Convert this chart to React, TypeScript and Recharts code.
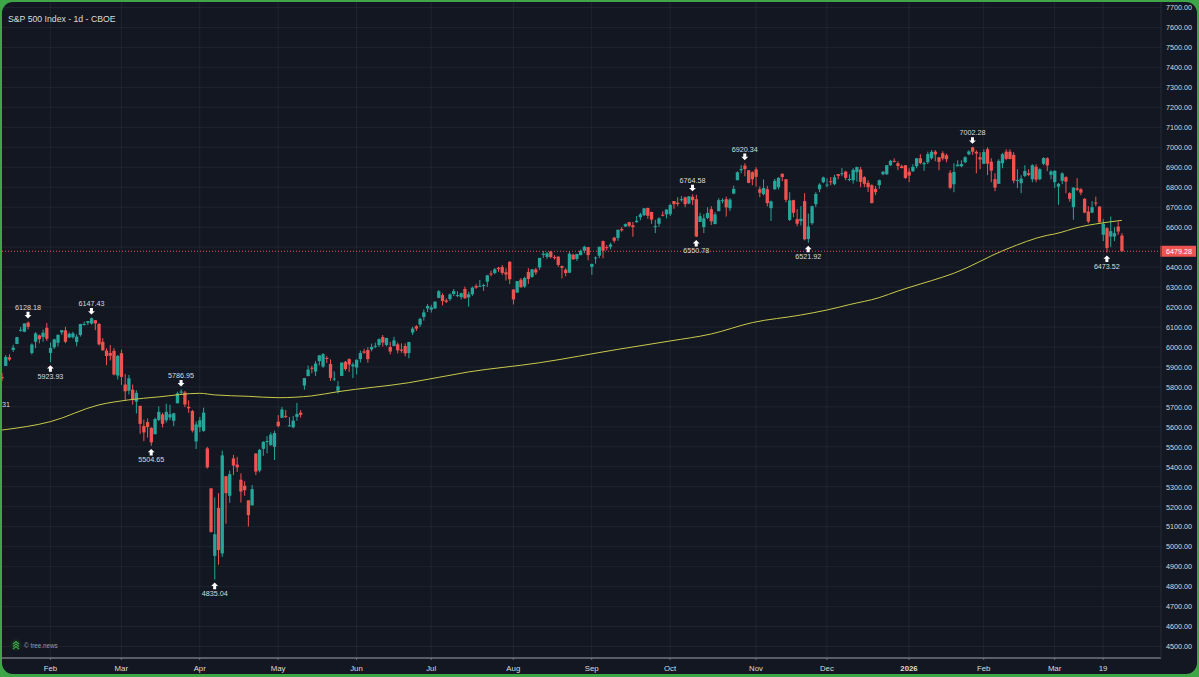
import React from "react";
import {
  Bar,
  CartesianGrid,
  ComposedChart,
  Line,
  ReferenceDot,
  ReferenceLine,
  XAxis,
  YAxis,
} from "recharts";

const FONT = '"Liberation Sans", Arial, sans-serif';
const UP = "#26a69a";
const DOWN = "#ef5350";
const BG = "#131722";
const TEXT = "#dcdcdc";

// trading days per month, one candle each
const tradingDays: [string, number[]][] = [
  ["2025-01", [14, 15, 16, 17, 21, 22, 23, 24, 27, 28, 29, 30, 31]],
  ["2025-02", [3, 4, 5, 6, 7, 10, 11, 12, 13, 14, 18, 19, 20, 21, 24, 25, 26, 27, 28]],
  ["2025-03", [3, 4, 5, 6, 7, 10, 11, 12, 13, 14, 17, 18, 19, 20, 21, 24, 25, 26, 27, 28, 31]],
  ["2025-04", [1, 2, 3, 4, 7, 8, 9, 10, 11, 14, 15, 16, 17, 21, 22, 23, 24, 25, 28, 29, 30]],
  ["2025-05", [1, 2, 5, 6, 7, 8, 9, 12, 13, 14, 15, 16, 19, 20, 21, 22, 23, 27, 28, 29, 30]],
  ["2025-06", [2, 3, 4, 5, 6, 9, 10, 11, 12, 13, 16, 17, 18, 20, 23, 24, 25, 26, 27, 30]],
  ["2025-07", [1, 2, 3, 7, 8, 9, 10, 11, 14, 15, 16, 17, 18, 21, 22, 23, 24, 25, 28, 29, 30, 31]],
  ["2025-08", [1, 4, 5, 6, 7, 8, 11, 12, 13, 14, 15, 18, 19, 20, 21, 22, 25, 26, 27, 28, 29]],
  ["2025-09", [2, 3, 4, 5, 8, 9, 10, 11, 12, 15, 16, 17, 18, 19, 22, 23, 24, 25, 26, 29, 30]],
  ["2025-10", [1, 2, 3, 6, 7, 8, 9, 10, 13, 14, 15, 16, 17, 20, 21, 22, 23, 24, 27, 28, 29, 30, 31]],
  ["2025-11", [3, 4, 5, 6, 7, 10, 11, 12, 13, 14, 17, 18, 19, 20, 21, 24, 25, 26, 28]],
  ["2025-12", [1, 2, 3, 4, 5, 8, 9, 10, 11, 12, 15, 16, 17, 18, 19, 22, 23, 24, 26, 29, 30, 31]],
  ["2026-01", [2, 5, 6, 7, 8, 9, 12, 13, 14, 15, 16, 20, 21, 22, 23, 26, 27, 28, 29, 30]],
  ["2026-02", [2, 3, 4, 5, 6, 9, 10, 11, 12, 13, 17, 18, 19, 20, 23, 24, 25, 26, 27]],
  ["2026-03", [2, 3, 4, 5, 6, 9, 10, 11, 12, 13, 16, 17, 18, 19, 20, 23, 24, 25, 26]],
];

// empty slots to the right of the last candle
const futureSlots = ["f1", "f2", "f3", "f4", "f5", "f6", "f7", "f8", "f9", "f10"];

const opens = [
  5850, 5905, 5948, 5985, 6015, 6081, 6076, 6122, 5970, 6026, 6058, 6050, 6096,
  5970, 5998, 6021, 6073, 6083, 6047, 6049, 6025, 6060, 6115, 6121, 6117, 6134, 6115, 6026, 5982, 5970, 5981, 5857,
  5969, 5812, 5781, 5786, 5726, 5705, 5604, 5624, 5595, 5563, 5635, 5662, 5633, 5647, 5630, 5718, 5771, 5772, 5700, 5679, 5527,
  5598, 5580, 5492, 5292, 4954, 5194, 4966, 5353, 5255, 5442, 5411, 5335, 5305, 5232, 5207, 5466, 5381, 5490, 5529, 5508, 5500,
  5626, 5645, 5655, 5606, 5598, 5650, 5671, 5807, 5854, 5896, 5877, 5929, 5902, 5945, 5915, 5841, 5781, 5855, 5926, 5939, 5903,
  5897, 5939, 5978, 5985, 5988, 6005, 6010, 6050, 6010, 6000, 6005, 6013, 5987, 6005, 5970, 6072, 6104, 6112, 6150, 6193,
  6187, 6193, 6246, 6260, 6233, 6240, 6265, 6255, 6250, 6290, 6248, 6264, 6305, 6304, 6306, 6327, 6368, 6370, 6397, 6400, 6374, 6427,
  6288, 6272, 6337, 6303, 6376, 6351, 6388, 6398, 6461, 6451, 6478, 6450, 6452, 6405, 6387, 6372, 6462, 6441, 6460, 6482, 6500,
  6401, 6445, 6457, 6530, 6500, 6502, 6547, 6546, 6590, 6603, 6625, 6609, 6625, 6650, 6660, 6696, 6676, 6605, 6617, 6662, 6664,
  6665, 6731, 6722, 6735, 6749, 6718, 6752, 6740, 6626, 6600, 6646, 6690, 6615, 6680, 6735, 6740, 6695, 6768, 6835, 6885, 6908, 6885, 6875,
  6889, 6790, 6765, 6790, 6695, 6790, 6800, 6867, 6840, 6636, 6735, 6640, 6630, 6730, 6541, 6620, 6715, 6790, 6825,
  6812, 6830, 6815, 6866, 6866, 6878, 6840, 6835, 6875, 6889, 6850, 6822, 6810, 6792, 6810, 6865, 6865, 6910, 6932, 6920, 6905, 6910,
  6878, 6880, 6905, 6945, 6915, 6925, 6945, 6978, 6950, 6970, 6960, 6872, 6815, 6905, 6905, 6925, 6965, 7000, 6977, 6950,
  6917, 6990, 6928, 6840, 6817, 6920, 6978, 6978, 6962, 6835, 6820, 6857, 6870, 6840, 6903, 6840, 6917, 6945, 6862,
  6825, 6803, 6832, 6850, 6770, 6700, 6795, 6790, 6742, 6678, 6673, 6723, 6703, 6562, 6595, 6553, 6553, 6603, 6558,
];

const highs = [
  5870, 5960, 5964, 6011, 6051, 6100, 6118, 6128, 6018, 6074, 6062, 6087, 6120,
  6022, 6042, 6062, 6084, 6101, 6073, 6076, 6063, 6116, 6127, 6130, 6147, 6134, 6120, 6044, 5993, 6010, 5994, 5960,
  5987, 5865, 5860, 5812, 5783, 5706, 5636, 5642, 5598, 5646, 5703, 5670, 5716, 5711, 5670, 5776, 5787, 5780, 5733, 5685, 5627,
  5650, 5696, 5500, 5293, 5247, 5268, 5481, 5353, 5381, 5460, 5450, 5367, 5328, 5232, 5309, 5469, 5489, 5528, 5554, 5572, 5581,
  5659, 5700, 5684, 5649, 5654, 5720, 5684, 5845, 5907, 5906, 5929, 5959, 5969, 5954, 5938, 5878, 5829, 5922, 5930, 5943, 5922,
  5938, 5982, 5991, 5999, 6017, 6022, 6043, 6060, 6046, 6026, 6051, 6023, 6018, 6018, 6026, 6101, 6109, 6146, 6188, 6215,
  6211, 6228, 6285, 6269, 6243, 6269, 6290, 6279, 6272, 6302, 6277, 6303, 6316, 6336, 6316, 6361, 6382, 6395, 6401, 6410, 6394, 6428,
  6288, 6330, 6345, 6352, 6395, 6390, 6396, 6446, 6481, 6477, 6481, 6460, 6456, 6408, 6394, 6479, 6467, 6466, 6488, 6507, 6501,
  6417, 6453, 6502, 6533, 6510, 6522, 6552, 6587, 6601, 6619, 6627, 6626, 6656, 6672, 6696, 6698, 6677, 6637, 6650, 6679, 6689,
  6718, 6731, 6750, 6756, 6753, 6756, 6765, 6762, 6672, 6665, 6700, 6705, 6675, 6745, 6745, 6753, 6745, 6808, 6879, 6911, 6920, 6886, 6880,
  6900, 6804, 6839, 6807, 6733, 6842, 6850, 6870, 6840, 6775, 6737, 6690, 6705, 6770, 6668, 6707, 6775, 6820, 6853,
  6844, 6851, 6862, 6866, 6896, 6882, 6865, 6895, 6903, 6902, 6855, 6835, 6815, 6806, 6838, 6880, 6911, 6937, 6945, 6930, 6913, 6911,
  6895, 6915, 6945, 6965, 6928, 6978, 6986, 6986, 6950, 6980, 6968, 6885, 6920, 6935, 6935, 6955, 6985, 7002, 6985, 6975,
  6990, 7000, 6945, 6870, 6940, 6972, 6990, 6990, 6975, 6890, 6860, 6910, 6890, 6915, 6915, 6895, 6950, 6950, 6885,
  6885, 6822, 6875, 6855, 6775, 6800, 6845, 6795, 6745, 6705, 6730, 6753, 6705, 6640, 6600, 6653, 6600, 6628, 6570,
];

const lows = [
  5830, 5905, 5930, 5975, 6014, 6077, 6074, 6088, 5962, 5994, 6018, 6026, 6030,
  5924, 5990, 6003, 6061, 6019, 6047, 6042, 6004, 6052, 6107, 6110, 6112, 6084, 6008, 5982, 5909, 5933, 5858, 5837,
  5810, 5733, 5762, 5711, 5667, 5565, 5528, 5546, 5505, 5563, 5629, 5597, 5622, 5633, 5604, 5718, 5763, 5699, 5670, 5572, 5489,
  5573, 5575, 5391, 5070, 4835, 4910, 4949, 5115, 5220, 5358, 5374, 5221, 5255, 5101, 5207, 5358, 5372, 5455, 5468, 5506, 5434,
  5597, 5645, 5644, 5603, 5593, 5630, 5646, 5786, 5854, 5868, 5855, 5908, 5895, 5920, 5830, 5829, 5767, 5855, 5881, 5875, 5844,
  5862, 5922, 5966, 5921, 5978, 5994, 6000, 6002, 6004, 5963, 6005, 5968, 5971, 5953, 5943, 6060, 6080, 6100, 6132, 6175,
  6172, 6190, 6244, 6208, 6220, 6230, 6255, 6249, 6238, 6241, 6202, 6256, 6291, 6303, 6281, 6301, 6354, 6364, 6376, 6361, 6333, 6315,
  6213, 6272, 6297, 6296, 6316, 6346, 6361, 6386, 6445, 6441, 6444, 6438, 6401, 6343, 6354, 6370, 6437, 6431, 6459, 6469, 6434,
  6361, 6417, 6445, 6444, 6484, 6489, 6522, 6532, 6577, 6601, 6600, 6552, 6622, 6635, 6656, 6642, 6617, 6570, 6602, 6654, 6644,
  6656, 6692, 6705, 6727, 6700, 6715, 6711, 6551, 6626, 6570, 6640, 6611, 6616, 6680, 6719, 6653, 6680, 6765, 6835, 6870, 6855, 6820, 6810,
  6803, 6750, 6759, 6704, 6631, 6786, 6789, 6830, 6725, 6631, 6650, 6605, 6608, 6534, 6522, 6612, 6700, 6775, 6820,
  6800, 6810, 6810, 6840, 6855, 6835, 6830, 6818, 6828, 6800, 6801, 6776, 6718, 6760, 6792, 6860, 6862, 6907, 6924, 6885, 6894, 6842,
  6825, 6876, 6895, 6915, 6882, 6916, 6938, 6930, 6885, 6934, 6925, 6790, 6775, 6905, 6900, 6920, 6960, 6962, 6870, 6890,
  6917, 6860, 6825, 6780, 6817, 6895, 6935, 6940, 6820, 6795, 6770, 6850, 6855, 6825, 6825, 6835, 6910, 6880, 6840,
  6795, 6712, 6815, 6770, 6728, 6637, 6780, 6760, 6670, 6620, 6670, 6705, 6622, 6530, 6473, 6500, 6530, 6562, 6479,
];

const closes = [
  5843, 5950, 5937, 5997, 6049, 6086, 6118, 6101, 6012, 6068, 6039, 6071, 6041,
  5995, 6038, 6061, 6084, 6026, 6066, 6068, 6052, 6115, 6115, 6130, 6144, 6118, 6013, 5983, 5955, 5956, 5862, 5955,
  5850, 5778, 5843, 5739, 5770, 5615, 5572, 5599, 5522, 5639, 5675, 5615, 5675, 5663, 5668, 5768, 5777, 5712, 5693, 5581, 5612,
  5633, 5671, 5397, 5074, 5062, 4983, 5457, 5268, 5363, 5406, 5397, 5276, 5283, 5158, 5288, 5376, 5485, 5525, 5529, 5561, 5569,
  5604, 5687, 5650, 5607, 5631, 5664, 5660, 5844, 5887, 5893, 5917, 5958, 5964, 5940, 5845, 5842, 5803, 5922, 5889, 5912, 5912,
  5936, 5970, 5971, 5939, 6000, 6006, 6039, 6022, 6045, 5977, 6033, 5983, 5981, 5968, 6025, 6092, 6092, 6141, 6173, 6205,
  6198, 6227, 6279, 6230, 6226, 6263, 6280, 6260, 6269, 6244, 6264, 6297, 6297, 6306, 6310, 6359, 6363, 6389, 6390, 6371, 6363, 6339,
  6238, 6330, 6299, 6345, 6340, 6389, 6373, 6446, 6467, 6469, 6450, 6449, 6411, 6396, 6370, 6467, 6439, 6466, 6481, 6502, 6460,
  6416, 6448, 6502, 6482, 6495, 6513, 6532, 6587, 6584, 6615, 6607, 6600, 6632, 6664, 6694, 6657, 6638, 6605, 6644, 6661, 6688,
  6711, 6715, 6716, 6740, 6715, 6754, 6735, 6553, 6655, 6644, 6671, 6629, 6664, 6735, 6735, 6699, 6738, 6792, 6875, 6891, 6891, 6822, 6840,
  6852, 6772, 6796, 6720, 6729, 6832, 6847, 6851, 6737, 6734, 6672, 6617, 6642, 6539, 6603, 6705, 6766, 6813, 6849,
  6813, 6829, 6850, 6857, 6870, 6847, 6841, 6887, 6901, 6827, 6817, 6800, 6721, 6775, 6835, 6878, 6910, 6932, 6930, 6906, 6896, 6846,
  6858, 6902, 6945, 6921, 6921, 6966, 6977, 6964, 6927, 6944, 6940, 6797, 6876, 6913, 6916, 6950, 6979, 6978, 6969, 6939,
  6976, 6918, 6883, 6798, 6932, 6965, 6942, 6941, 6833, 6836, 6843, 6881, 6862, 6910, 6838, 6890, 6946, 6909, 6879,
  6882, 6817, 6869, 6828, 6742, 6798, 6787, 6773, 6673, 6628, 6700, 6718, 6624, 6617, 6495, 6580, 6570, 6578, 6479,
];

// moving average, read at the places where it bends
const maDates = [
  "2025-01-14", "2025-02-03", "2025-02-21", "2025-03-05", "2025-03-17", "2025-04-01", "2025-04-07",
  "2025-04-21", "2025-05-01", "2025-05-14", "2025-05-23", "2025-06-23", "2025-07-16", "2025-08-12",
  "2025-09-11", "2025-10-01", "2025-10-16", "2025-10-31", "2025-11-19", "2025-12-01", "2025-12-09",
  "2025-12-19", "2025-12-29", "2026-01-07", "2026-01-12", "2026-01-21", "2026-02-10", "2026-02-26",
  "2026-03-02", "2026-03-11", "2026-03-17", "2026-03-26",
];
const maValues = [
  5584, 5626, 5710, 5735, 5750, 5768, 5760,
  5753, 5746, 5755, 5776, 5821, 5875, 5921,
  5988, 6030, 6065, 6122, 6160, 6185, 6212,
  6247, 6280, 6315, 6332, 6369, 6489, 6559,
  6566, 6602, 6616, 6634,
];

const priceTicks = [
  4500, 4600, 4700, 4800, 4900, 5000, 5100, 5200, 5300, 5400, 5500, 5600, 5700, 5800, 5900, 6000, 6100,
  6200, 6300, 6400, 6500, 6600, 6700, 6800, 6900, 7000, 7100, 7200, 7300, 7400, 7500, 7600, 7700,
];

const dateTicks = [
  "2025-02-03", "2025-03-03", "2025-04-01", "2025-05-01", "2025-06-02", "2025-07-01", "2025-08-01", "2025-09-02",
  "2025-10-01", "2025-11-03", "2025-12-01", "2026-01-02", "2026-02-02", "2026-03-02", "2026-03-19",
];
const dateTickLabels = ["Feb", "Mar", "Apr", "May", "Jun", "Jul", "Aug", "Sep", "Oct", "Nov", "Dec", "2026", "Feb", "Mar", "19"];

const markerDates = [
  "2025-01-24", "2025-02-03", "2025-02-19", "2025-03-13", "2025-03-25", "2025-04-07",
  "2025-10-09", "2025-10-10", "2025-10-29", "2025-11-21", "2026-01-28", "2026-03-20",
];
const markerPrices = [6128.18, 5923.93, 6147.43, 5504.65, 5786.95, 4835.04, 6764.58, 6550.78, 6920.34, 6521.92, 7002.28, 6473.52];
const markerIsHigh = [true, false, true, false, true, false, true, false, true, false, true, false];

const lastPrice = 6479.28;

const candleDates = tradingDays.flatMap(([month, days]) =>
  days.map((d) => `${month}-${String(d).padStart(2, "0")}`)
);

const rows = [
  ...candleDates.map((date, i) => {
    const m = maDates.indexOf(date);
    return {
      date,
      open: opens[i],
      high: highs[i],
      low: lows[i],
      close: closes[i],
      range: [lows[i], highs[i]],
      ma: m >= 0 ? maValues[m] : null,
    };
  }),
  ...futureSlots.map((date) => ({ date })),
];

function Candle(props: any) {
  const { x, y, width, height, payload } = props;
  if (!payload || payload.open == null) return null;
  const { open, close, high, low } = payload;
  const perUnit = height / (high - low);
  const top = y + (high - Math.max(open, close)) * perUnit;
  const bodyH = Math.max(Math.abs(open - close) * perUnit, 1);
  const cx = x + width / 2;
  const color = close >= open ? UP : DOWN;
  return (
    <g>
      <line x1={cx} x2={cx} y1={y} y2={y + height} stroke={color} strokeWidth={1} />
      <rect x={cx - 1.65} y={top} width={3.3} height={bodyH} fill={color} />
    </g>
  );
}

function Marker(props: any) {
  const { cx, cy, price, high } = props;
  const t = high ? cy - 3 : cy + 3;
  const dir = high ? -1 : 1;
  // block arrow pointing at the candle
  const pts = [
    [cx, t],
    [cx + 3.4, t + dir * 3.4],
    [cx + 1.5, t + dir * 3.4],
    [cx + 1.5, t + dir * 6.6],
    [cx - 1.5, t + dir * 6.6],
    [cx - 1.5, t + dir * 3.4],
    [cx - 3.4, t + dir * 3.4],
  ]
    .map((p) => p.join(","))
    .join(" ");
  return (
    <g>
      <polygon points={pts} fill="#ffffff" />
      <text
        x={cx}
        y={t + dir * 11}
        textAnchor="middle"
        dominantBaseline="central"
        fontSize={7.2}
        fontFamily={FONT}
        fill={TEXT}
      >
        {price.toFixed(2)}
      </text>
    </g>
  );
}

function PriceTag(props: any) {
  const { viewBox } = props;
  const right = viewBox.x + viewBox.width;
  return (
    <g>
      <rect x={right - 1} y={viewBox.y - 5.5} width={36} height={11} fill={DOWN} />
      <text
        x={right + 5}
        y={viewBox.y + 0.3}
        dominantBaseline="central"
        fontSize={7.2}
        fontFamily={FONT}
        fill="#ffffff"
      >
        {lastPrice.toFixed(2)}
      </text>
    </g>
  );
}

function PriceTick(props: any) {
  const { x, y, payload } = props;
  // the last price tag sits on top of this level
  if (payload.value === 6500) return null;
  return (
    <text x={x} y={y + 0.3} dominantBaseline="central" fontSize={7.2} fontFamily={FONT} fill={TEXT}>
      {payload.value.toFixed(2)}
    </text>
  );
}

function DateTick(props: any) {
  const { x, y, payload } = props;
  const label = dateTickLabels[dateTicks.indexOf(payload.value)];
  return (
    <text
      x={x}
      y={y + 6}
      textAnchor="middle"
      dominantBaseline="central"
      fontSize={7.8}
      fontFamily={FONT}
      fontWeight={label === "2026" ? 700 : 400}
      fill={TEXT}
    >
      {label}
    </text>
  );
}

export default function App() {
  return (
    <div style={{ position: "absolute", left: 0, top: 0, width: 1199, height: 677, overflow: "hidden", background: "#3fa648" }}>
      <div style={{ position: "absolute", left: 2, top: 2, width: 1195, height: 672, borderRadius: 11, overflow: "hidden", background: BG }}>
        <div style={{ position: "absolute", left: -2, top: -2 }}>
          <ComposedChart
            width={1199}
            height={677}
            data={rows}
            barCategoryGap={0}
            margin={{ top: 0, right: 0, bottom: 0, left: 0 }}
          >
            <CartesianGrid stroke="#ffffff" strokeOpacity={0.055} />
            <XAxis
              dataKey="date"
              ticks={dateTicks}
              interval={0}
              height={19}
              tick={<DateTick />}
              tickSize={2}
              tickLine={{ stroke: "#6b6f7a" }}
              axisLine={{ stroke: "#5a5d68", strokeWidth: 2 }}
            />
            <YAxis
              orientation="right"
              width={38}
              domain={[4442.5, 7737.5]}
              allowDataOverflow
              ticks={priceTicks}
              interval={0}
              tickLine={false}
              tickSize={0}
              tickMargin={5}
              axisLine={{ stroke: "#23262f" }}
              tick={<PriceTick />}
            />
            <Bar dataKey="range" shape={<Candle />} isAnimationActive={false} />
            <Line
              dataKey="ma"
              type="monotone"
              connectNulls
              dot={false}
              stroke="#c9c94a"
              strokeWidth={1}
              isAnimationActive={false}
            />
            <ReferenceLine
              y={lastPrice}
              stroke={DOWN}
              strokeWidth={1}
              strokeDasharray="1 2"
              label={(p: any) => <PriceTag {...p} />}
            />
            {markerDates.map((d, i) => (
              <ReferenceDot
                key={d}
                x={d}
                y={markerPrices[i]}
                ifOverflow="visible"
                shape={(p: any) => <Marker {...p} price={markerPrices[i]} high={markerIsHigh[i]} />}
              />
            ))}
          </ComposedChart>
        </div>
        <div style={{ position: "absolute", left: 6, top: 12, font: `8.7px ${FONT}`, color: TEXT }}>
          S&amp;P 500 Index - 1d - CBOE
        </div>
        <div style={{ position: "absolute", left: 0, top: 398, font: `7.2px ${FONT}`, color: TEXT }}>31</div>
        <div style={{ position: "absolute", left: 8, top: 637, display: "flex", alignItems: "center", gap: 2, font: `6.3px ${FONT}`, color: "#9a9da5" }}>
          <svg width={12} height={12} viewBox="0 0 12 12">
            <circle cx={6} cy={6} r={6} fill="#16261f" />
            <path d="M3 5 L6 2.5 L9 5 M3 7.5 L6 5 L9 7.5 M3 10 L6 7.5 L9 10" stroke="#3fa648" strokeWidth={1.2} fill="none" />
          </svg>
          <span>© tree.news</span>
        </div>
      </div>
    </div>
  );
}
